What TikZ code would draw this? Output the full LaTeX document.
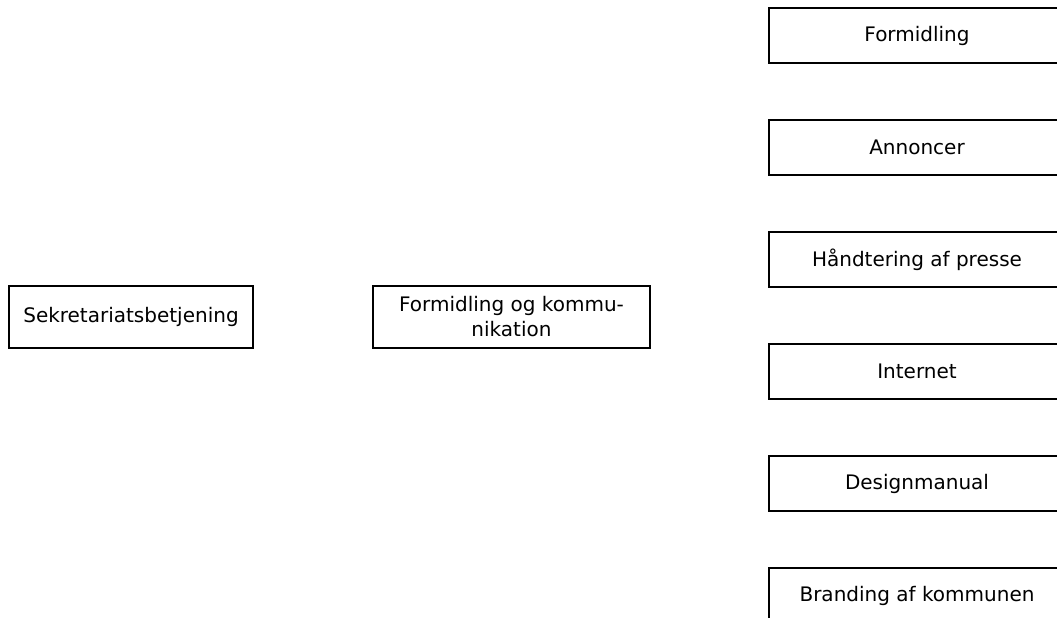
\documentclass[tikz,border=0pt]{standalone}
\usepackage{fontspec}
\setmainfont{DejaVu Sans}
\begin{document}
\begin{tikzpicture}[x=1pt,y=-1pt,
  box/.style={draw=black,line width=2pt,fill=white,inner sep=0pt,align=center,font=\fontsize{20}{25}\selectfont,anchor=north west},
]
\useasboundingbox (0,0) rectangle (1057,618);
\node[box,minimum width=244pt,minimum height=62pt] (sek) at (8,285) {Sekretariatsbetjening};
\node[box,minimum width=277pt,minimum height=62pt] (fok) at (372,285) {Formidling og kommu-\\nikation};
\foreach \n/\t [count=\i from 0] in {f1/Formidling,f2/Annoncer,f3/Håndtering af presse,f4/Internet,f5/Designmanual,f6/Branding af kommunen}{
  \node[box,minimum width=296pt,minimum height=55pt] (\n) at (768,7+112*\i) {\t};
}
\end{tikzpicture}
\end{document}
